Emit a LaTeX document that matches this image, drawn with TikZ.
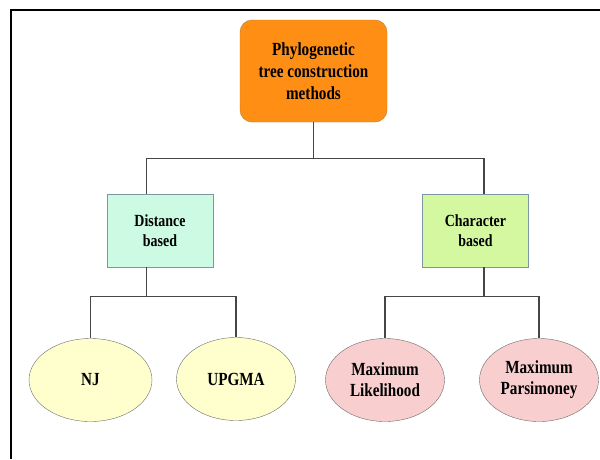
\documentclass[tikz,border=0pt]{standalone}
\usepackage{fontspec}
\setmainfont{Liberation Serif}[FakeStretch=0.82]
\usetikzlibrary{shapes,positioning}
\definecolor{rootorange}{RGB}{255,142,20}
\definecolor{rootedge}{RGB}{190,120,40}
\definecolor{distfill}{RGB}{204,250,226}
\definecolor{charfill}{RGB}{212,248,160}
\definecolor{boxedge}{RGB}{125,150,165}
\definecolor{nodeyellow}{RGB}{255,255,206}
\definecolor{nodepink}{RGB}{248,206,206}
\definecolor{linegray}{RGB}{70,70,70}

\begin{document}
\begin{tikzpicture}[x=1pt, y=-1pt]
  \tikzstyle{rootbox}=[rectangle, rounded corners=12pt, draw=rootedge, fill=rootorange, minimum width=147pt, minimum height=102pt, inner sep=0pt, font=\fontsize{18.5}{22}\selectfont\bfseries, align=center]
  \tikzstyle{group}=[rectangle, draw=boxedge, minimum width=106pt, minimum height=73pt, inner sep=0pt, font=\fontsize{17}{20}\selectfont\bfseries, align=center]
  \tikzstyle{method}=[ellipse, draw=linegray!80, minimum width=119pt, minimum height=83pt, inner sep=0pt, font=\fontsize{18.5}{21}\selectfont\bfseries, align=center]
  \tikzstyle{conn}=[draw=linegray, line width=1.2pt]

  \useasboundingbox (0,0) rectangle (600,459);
  % Rahmen
  \draw[line width=2pt] (600,10) -| (11,459);

  % Wurzel
  \node[rootbox] (root) at (313.5,71) {Phylogenetic\\tree construction\\methods};

  % Gruppen
  \node[group, fill=distfill] (dist) at (160,230.5) {Distance\\based};
  \node[group, fill=charfill] (char) at (475.5,230.5) {Character\\based};

  % Methoden
  \node[method, fill=nodeyellow, minimum width=123pt] (nj) at (90.5,380) {NJ};
  \node[method, fill=nodeyellow] (upgma) at (236,379) {UPGMA};
  \node[method, fill=nodepink] (ml) at (385,380) {Maximum\\Likelihood};
  \node[method, fill=nodepink] (mp) at (539,380) {Maximum\\Parsimoney};

  % Verbindungen
  \draw[conn] (root.south) -- ++(0,36) -| (dist.110);
  \draw[conn] (root.south) -- ++(0,36) -| (char.77);
  \draw[conn] (dist.250) -- ++(0,29) -| (nj.north);
  \draw[conn] (dist.250) -- ++(0,29) -| (upgma.north);
  \draw[conn] (char.283) -- ++(0,29) -| (ml.north);
  \draw[conn] (char.283) -- ++(0,29) -| (mp.north);
\end{tikzpicture}
\end{document}
